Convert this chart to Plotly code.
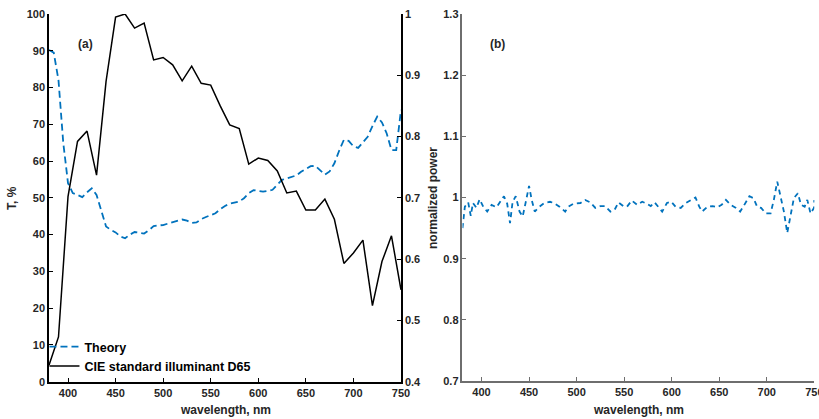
import plotly.graph_objects as go

# ---- data ----
theory_wl = [380, 385, 390, 395, 400, 405, 410, 415, 420, 425, 430, 435, 440, 445, 450, 455, 460, 465, 470, 475,
             480, 485, 490, 495, 500, 505, 510, 515, 520, 525, 530, 535, 540, 545, 550, 555, 560, 565, 570, 575,
             580, 585, 590, 595, 600, 605, 610, 615, 620, 625, 630, 635, 640, 645, 650, 655, 660, 665, 670, 675,
             680, 685, 690, 695, 700, 705, 710, 715, 720, 725, 730, 735, 740, 745, 750]
theory_T = [90.2, 89.5, 82.0, 65.0, 54.0, 51.3, 50.8, 50.2, 51.5, 52.6, 50.8, 46.5, 42.2, 41.3, 40.6, 39.5, 39.0, 40.0, 40.7, 40.5,
            40.3, 41.2, 42.3, 42.5, 42.6, 43.0, 43.4, 43.8, 44.1, 43.8, 43.2, 43.3, 44.2, 44.8, 45.2, 45.8, 46.9, 47.8, 48.4, 48.7,
            49.0, 49.9, 51.3, 52.1, 51.9, 51.7, 51.9, 52.2, 53.6, 54.9, 55.3, 55.6, 56.1, 57.1, 57.9, 58.6, 58.7, 57.5, 56.3, 57.2,
            59.4, 62.8, 65.8, 65.5, 64.0, 63.6, 65.2, 66.6, 69.5, 72.1, 70.5, 67.5, 63.0, 63.0, 73.9]

d65_wl = list(range(380, 751, 10))
d65_power = [0.427, 0.473, 0.702, 0.792, 0.809, 0.737, 0.890, 0.995, 1.000, 0.977, 0.985, 0.925, 0.929, 0.917,
             0.891, 0.915, 0.887, 0.884, 0.850, 0.819, 0.813, 0.755, 0.765, 0.761, 0.744, 0.708, 0.711, 0.680,
             0.680, 0.698, 0.665, 0.593, 0.610, 0.631, 0.524, 0.596, 0.638, 0.550]

norm_wl = [380, 382.5, 386, 388.7, 391, 394.7, 398, 401.8, 406, 410.6, 415.8, 419.4, 423.6, 427, 430, 432.7, 436,
           440, 443.3, 447, 450, 452.8, 456, 461, 466, 472, 476, 482, 488, 491.5, 497, 504, 509, 514.4, 519.7,
           525, 530, 535.6, 540, 544, 549, 553, 558, 563.7, 569, 573.6, 578, 582, 586.6, 590, 595, 599.6, 604,
           609.5, 614.8, 620, 625, 629, 632, 637.7, 643, 648, 652.5, 657, 662, 667.6, 672, 676.4, 681.7, 686,
           689.8, 694, 699, 704, 707.4, 711, 714.4, 718, 721.5, 725, 728.5, 732.7, 736, 739.8, 742.6, 746, 749.6, 750]
norm_power = [0.950, 0.985, 0.992, 0.970, 0.991, 0.983, 0.997, 0.985, 0.977, 0.988, 0.984, 0.993, 1.002, 0.990,
              0.958, 0.993, 1.002, 0.977, 0.969, 0.996, 1.019, 0.996, 0.977, 0.985, 0.991, 0.993, 0.991, 0.985,
              0.977, 0.985, 0.990, 0.991, 0.996, 0.992, 0.983, 0.986, 0.986, 0.977, 0.980, 0.992, 0.986, 0.985,
              0.995, 0.988, 0.993, 0.990, 0.986, 0.992, 0.983, 0.977, 0.991, 0.993, 0.985, 0.983, 0.991, 0.996,
              1.000, 0.985, 0.977, 0.985, 0.986, 0.984, 0.988, 0.996, 0.988, 0.983, 0.977, 0.988, 1.002, 0.999,
              0.985, 0.983, 0.974, 0.974, 0.996, 1.026, 1.002, 0.977, 0.942, 0.969, 0.999, 1.007, 0.988, 0.985,
              0.996, 0.974, 0.983, 0.996]

x_ticks = [400, 450, 500, 550, 600, 650, 700, 750]

# ---- figure ----
BLUE = "#0072BD"
FONT = "Liberation Sans"
TXT = "#262626"

fig = go.Figure()
fig.add_trace(go.Scatter(x=theory_wl, y=theory_T, name="Theory", mode="lines",
                         line=dict(color=BLUE, width=1.8, dash="7px,4px"), xaxis="x", yaxis="y"))
fig.add_trace(go.Scatter(x=d65_wl, y=d65_power, name="CIE standard illuminant D65", mode="lines",
                         line=dict(color="black", width=1.5), xaxis="x", yaxis="y2"))
fig.add_trace(go.Scatter(x=norm_wl, y=norm_power, name="norm", mode="lines", showlegend=False,
                         line=dict(color=BLUE, width=1.8, dash="5px,4px"), xaxis="x2", yaxis="y3"))

tickfont = dict(family=FONT, size=11, color=TXT, weight="bold")
common_x = dict(range=[380, 750], tickvals=x_ticks, ticks="inside", ticklen=4, showline=True,
                showgrid=False, zeroline=False, tickfont=tickfont, automargin=False,
                ticklabeloverflow="allow")
common_y = dict(ticks="inside", ticklen=4, showline=True, showgrid=False, zeroline=False,
                tickfont=tickfont, automargin=False, dtick=0.1)

fig.update_layout(
    width=819, height=419,
    margin=dict(l=0, r=0, t=0, b=0, autoexpand=False),
    paper_bgcolor="white", plot_bgcolor="white",
    font=dict(family=FONT, color=TXT),
    xaxis=dict(domain=[0.0598, 0.4896], anchor="y", linecolor="black", linewidth=1.5,
               tickcolor="black", **common_x),
    yaxis=dict(domain=[0.089, 0.9666], range=[0, 100], dtick=10, ticks="inside", ticklen=4,
               showline=True, linecolor="black", linewidth=1.5, tickcolor="black",
               showgrid=False, zeroline=False, tickfont=tickfont, anchor="x", automargin=False,
               ticklabeloverflow="allow"),
    yaxis2=dict(overlaying="y", side="right", anchor="x", range=[0.4, 1.0],
                linecolor="black", linewidth=1.5, tickcolor="black", **common_y),
    xaxis2=dict(domain=[0.5647, 0.9943], anchor="y3", linecolor="#6e6e6e", linewidth=1.5,
                tickcolor="#6e6e6e", **common_x),
    yaxis3=dict(domain=[0.0907, 0.9666], anchor="x2", range=[0.7, 1.3],
                linecolor="#6e6e6e", linewidth=1.5, tickcolor="#6e6e6e", **common_y),
    legend=dict(x=0.0543, y=1 - 332 / 419, xanchor="left", yanchor="top",
                bgcolor="rgba(255,255,255,0)",
                font=dict(family=FONT, size=12.5, color="black", weight="bold"),
                tracegroupgap=0, itemwidth=30),
    showlegend=True,
)

lab = dict(family=FONT, size=12, color=TXT, weight="bold")
base = dict(xref="paper", yref="paper", showarrow=False, xanchor="center", yanchor="middle", font=lab)
ann = [
    dict(text="(a)", x=85 / 819, y=1 - 44 / 419, **base),
    dict(text="(b)", x=498 / 819, y=1 - 44 / 419, **base),
    dict(text="T, %", x=12 / 819, y=1 - 198 / 419, textangle=-90, **base),
    dict(text="normalized power", x=433 / 819, y=1 - 198 / 419, textangle=-90, **base),
    dict(text="wavelength, nm", x=225 / 819, y=1 - 410 / 419, **base),
    dict(text="wavelength, nm", x=638 / 819, y=1 - 410 / 419, **base),
]
fig.update_layout(annotations=ann)

fig.write_html(
    "out.html", config={"displayModeBar": False},
    post_script="document.body.style.margin='0px';document.body.style.overflow='hidden';")
